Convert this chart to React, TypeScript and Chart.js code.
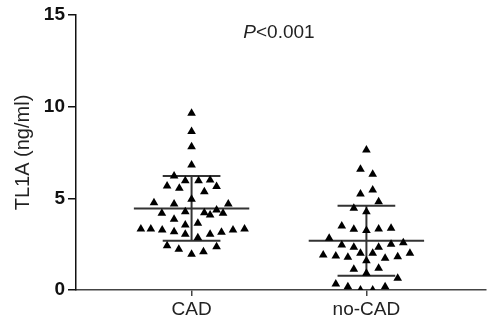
import React, { useEffect, useRef } from "react";
import { Chart, registerables } from "chart.js";

Chart.register(...registerables);

const categories = ["CAD", "no-CAD"];
const yTicks = [0, 5, 10, 15];
const pLabelItalic = "P";
const pLabelRest = "<0.001";
const yTitle = "TL1A (ng/ml)";

// CAD group: TL1A values (ng/ml) and horizontal scatter offsets (category units)
const cadValues = [
  9.64, 8.64, 7.82, 6.82,
  6.22, 5.96, 5.96, 6.0,
  5.67, 5.55, 5.36, 5.64,
  4.95, 4.76, 4.69, 4.69,
  4.18, 4.27, 4.22, 4.36, 4.18, 4.09,
  3.86, 3.55, 3.64,
  3.33, 3.33, 3.27, 3.18, 3.04, 2.85, 3.04, 3.15, 3.27, 3.33,
  2.42, 2.22, 1.95, 2.09, 2.36,
];
const cadOffsets = [
  0, 0, 0, 0,
  -0.1, -0.036, 0.04, 0.106,
  -0.14, -0.07, 0.073, 0.143,
  0, -0.215, -0.1, 0.21,
  -0.17, -0.036, 0.073, 0.143, 0.18, 0.106,
  -0.1, -0.036, 0.036,
  -0.29, -0.233, -0.168, -0.1, -0.036, 0.036, 0.106, 0.171, 0.237, 0.303,
  -0.14, -0.073, 0, 0.068, 0.143,
];

// no-CAD group
const noCadValues = [
  7.64, 6.58, 6.31, 5.46, 5.24, 4.82, 4.46, 4.27,
  3.49, 3.31, 3.24, 3.33, 3.37,
  2.82, 2.45, 2.33, 2.33, 2.49, 2.58,
  1.91, 1.85, 1.78, 2.0, 2.0, 1.73, 1.82, 2.0,
  1.13, 1.6, 1.18, 0.91, 0.64,
  0.33, 0.18, 0.0, 0.0, 0.18,
];
const noCadOffsets = [
  0, -0.034, 0.036, 0.036, -0.034, 0.07, -0.072, 0,
  -0.141, -0.072, 0, 0.07, 0.141,
  -0.213, -0.141, -0.072, 0.07, 0.141, 0.211,
  -0.247, -0.175, -0.106, -0.034, 0.036, 0.107, 0.179, 0.249,
  -0.072, 0, 0.07, 0, 0.179,
  -0.175, -0.106, -0.034, 0.036, 0.107,
];

// Mean and SD per group
const groupMeans = [4.45, 2.69];
const groupSDs = [1.77, 1.91];

const FONT = "'Liberation Sans', Arial, Helvetica, sans-serif";

export default function App() {
  const canvasRef = useRef<HTMLCanvasElement | null>(null);

  useEffect(() => {
    const canvas = canvasRef.current;
    if (!canvas) return;

    const groups = [
      { values: cadValues, offsets: cadOffsets },
      { values: noCadValues, offsets: noCadOffsets },
    ];

    const datasets: any[] = [];
    groups.forEach((g, gi) => {
      const cx = gi + 1;
      datasets.push({
        label: categories[gi],
        data: g.values.map((v, i) => ({ x: cx + g.offsets[i], y: v })),
        pointStyle: "triangle",
        pointRadius: 5,
        pointHoverRadius: 5,
        backgroundColor: "#000",
        borderColor: "#000",
        borderWidth: 0,
        showLine: false,
      });
    });

    const lineStyle = {
      borderColor: "#333",
      borderWidth: 2,
      pointRadius: 0,
      showLine: true,
      fill: false,
    };
    groups.forEach((_, gi) => {
      const cx = gi + 1;
      const m = groupMeans[gi];
      const s = groupSDs[gi];
      const mw = 0.33;
      const sw = 0.165;
      datasets.push({ ...lineStyle, data: [{ x: cx - mw, y: m }, { x: cx + mw, y: m }] });
      datasets.push({ ...lineStyle, data: [{ x: cx - sw, y: m + s }, { x: cx + sw, y: m + s }] });
      datasets.push({ ...lineStyle, data: [{ x: cx - sw, y: m - s }, { x: cx + sw, y: m - s }] });
      datasets.push({ ...lineStyle, data: [{ x: cx, y: m - s }, { x: cx, y: m + s }] });
    });

    const pPlugin = {
      id: "pvalue",
      afterDraw(chart: any) {
        const { ctx, scales } = chart;
        const x = scales.x.getPixelForValue(1.5);
        const y = chart.chartArea.top + 18;
        ctx.save();
        ctx.fillStyle = "#222";
        ctx.textBaseline = "middle";
        ctx.font = `italic 19px ${FONT}`;
        const w1 = ctx.measureText(pLabelItalic).width;
        ctx.font = `19px ${FONT}`;
        const w2 = ctx.measureText(pLabelRest).width;
        const start = x - (w1 + w2) / 2;
        ctx.font = `italic 19px ${FONT}`;
        ctx.textAlign = "left";
        ctx.fillText(pLabelItalic, start, y);
        ctx.font = `19px ${FONT}`;
        ctx.fillText(pLabelRest, start + w1, y);
        ctx.restore();
      },
    };

    const chart = new Chart(canvas, {
      type: "scatter",
      data: { datasets },
      options: {
        animation: false,
        responsive: false,
        events: [],
        layout: { padding: { top: 15, right: 0, left: 0, bottom: 0 } },
        plugins: {
          legend: { display: false },
          tooltip: { enabled: false },
        },
        scales: {
          x: {
            type: "linear",
            min: 0.339,
            max: 2.684,
            afterBuildTicks: (scale: any) => {
              scale.ticks = categories.map((_, i) => ({ value: i + 1 }));
            },
            afterFit: (scale: any) => {
              scale.height = 35;
            },
            ticks: {
              autoSkip: false,
              maxRotation: 0,
              padding: 2,
              color: "#222",
              font: { family: FONT, size: 19 },
              callback: (v: any) => categories[Number(v) - 1] ?? "",
            },
            grid: {
              drawOnChartArea: false,
              drawTicks: true,
              tickLength: 6,
              color: "#444",
              lineWidth: 1.5,
            },
            border: { display: true, color: "#444", width: 1.5 },
          },
          y: {
            type: "linear",
            min: 0,
            max: 15,
            afterBuildTicks: (scale: any) => {
              scale.ticks = yTicks.map((v) => ({ value: v }));
            },
            afterFit: (scale: any) => {
              scale.width = 76;
            },
            ticks: {
              padding: 3,
              color: "#111",
              font: { family: FONT, size: 19, weight: "bold" },
            },
            grid: {
              drawOnChartArea: false,
              drawTicks: true,
              tickLength: 8,
              color: "#111",
              lineWidth: 1.5,
            },
            border: { display: true, color: "#111", width: 1.5 },
            title: {
              display: true,
              text: yTitle,
              color: "#222",
              font: { family: FONT, size: 20 },
              padding: { top: 11, bottom: 0 },
            },
          },
        },
      },
      plugins: [pPlugin],
    });

    return () => chart.destroy();
  }, []);

  return (
    <div style={{ position: "absolute", left: 0, top: 0, width: 491, height: 325, background: "#fff" }}>
      <canvas ref={canvasRef} width={491} height={325} />
    </div>
  );
}
